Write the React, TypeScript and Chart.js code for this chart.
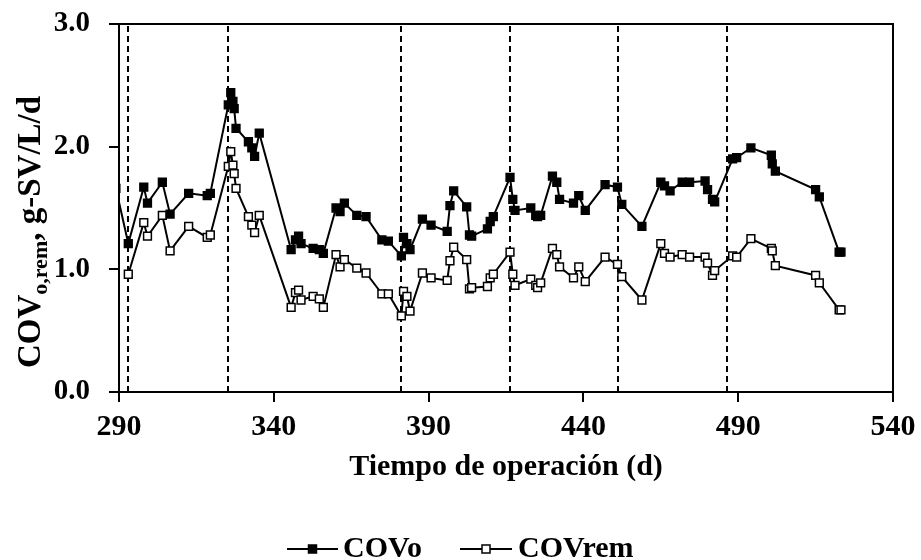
import React, { useEffect, useRef } from "react";
import { Chart, registerables } from "chart.js";

Chart.register(...registerables);

const days = [
  289, 293, 298, 299.2, 304, 306.5, 312.5, 318.5, 319.5, 325.3, 326.1, 326.8, 327.2, 327.8,
  331.8, 332.9, 333.8, 335.3, 345.6, 347.0, 348.0, 348.8, 352.7, 354.7, 356.0, 360.1, 361.4,
  362.8, 366.8, 369.8, 374.9, 377.0, 381.2, 381.9, 383.0, 384.0, 388.0, 390.8, 396.0, 396.9,
  398.1, 402.3, 403.2, 403.9, 409.0, 409.9, 410.9, 416.3, 417.2, 417.9, 423.0, 424.6, 425.2,
  426.2, 430.0, 431.4, 432.3, 436.8, 438.5, 440.6, 447.0, 451.0, 452.4, 458.9, 465.0, 466.2,
  468.0, 471.9, 474.3, 479.3, 480.1, 481.7, 482.4, 488.2, 489.5, 494.1, 500.7, 501.0, 502.0,
  515.0, 516.2, 522.6, 523.2,
];

const covo = [
  1.66, 1.21, 1.67, 1.54, 1.71, 1.45, 1.62, 1.6, 1.62, 2.34, 2.44, 2.37, 2.31, 2.15,
  2.04, 1.99, 1.92, 2.11, 1.16, 1.24, 1.27, 1.21, 1.17, 1.16, 1.13, 1.5, 1.47,
  1.54, 1.44, 1.43, 1.24, 1.23, 1.11, 1.26, 1.21, 1.16, 1.41, 1.36, 1.31, 1.52,
  1.64, 1.51, 1.28, 1.27, 1.33, 1.39, 1.43, 1.75, 1.57, 1.48, 1.5, 1.44, 1.43,
  1.44, 1.76, 1.71, 1.57, 1.54, 1.6, 1.48, 1.69, 1.67, 1.53, 1.35, 1.71, 1.68,
  1.64, 1.71, 1.71, 1.72, 1.65, 1.57, 1.55, 1.9, 1.91, 1.99, 1.93, 1.86, 1.8,
  1.65, 1.59, 1.14, 1.14,
];

const covrem = [
  null, 0.96, 1.38, 1.27, 1.44, 1.15, 1.35, 1.26, 1.28, 1.84, 1.96, 1.85, 1.78, 1.66,
  1.43, 1.36, 1.3, 1.44, 0.69, 0.81, 0.83, 0.75, 0.78, 0.76, 0.69, 1.12, 1.02,
  1.08, 1.01, 0.97, 0.8, 0.8, 0.62, 0.82, 0.78, 0.66, 0.97, 0.93, 0.91, 1.07,
  1.18, 1.08, 0.84, 0.85, 0.86, 0.93, 0.96, 1.14, 0.96, 0.87, 0.92, 0.87, 0.85,
  0.89, 1.17, 1.12, 1.02, 0.93, 1.02, 0.9, 1.1, 1.04, 0.94, 0.75, 1.21, 1.13,
  1.1, 1.12, 1.1, 1.1, 1.05, 0.95, 0.99, 1.11, 1.1, 1.25, 1.17, 1.15, 1.03,
  0.95, 0.89, 0.67, 0.67,
];

const phaseLines = [292.8, 325.1, 381.1, 416.3, 451.1, 486.3];

const seriesNames = ["COVo", "COVrem"];
const xTitle = "Tiempo de operación (d)";
const yTitleMain = "COV";
const yTitleSub = "o,rem";
const yTitleRest = ", g-SV/L/d";

const FONT = "'Liberation Serif', 'Times New Roman', serif";
const FS = 30;

const decorPlugin = {
  id: "decor",
  beforeDatasetsDraw(chart: any) {
    const { ctx, chartArea, scales } = chart;
    ctx.save();
    ctx.strokeStyle = "#000";
    ctx.lineWidth = 2;
    ctx.setLineDash([6, 4]);
    phaseLines.forEach((d) => {
      const x = Math.round(scales.x.getPixelForValue(d));
      ctx.beginPath();
      ctx.moveTo(x, chartArea.top + 2);
      ctx.lineTo(x, chartArea.bottom);
      ctx.stroke();
    });
    ctx.restore();
  },
  afterDraw(chart: any) {
    const { ctx, chartArea } = chart;
    ctx.save();
    // top and right frame
    ctx.strokeStyle = "#000";
    ctx.lineWidth = 2;
    ctx.setLineDash([]);
    ctx.beginPath();
    ctx.moveTo(chartArea.left - 10, chartArea.top);
    ctx.lineTo(chartArea.right, chartArea.top);
    ctx.lineTo(chartArea.right, chartArea.bottom + 10);
    ctx.stroke();

    ctx.fillStyle = "#000";
    // x title
    ctx.font = `bold ${FS}px ${FONT}`;
    ctx.textAlign = "center";
    ctx.textBaseline = "middle";
    ctx.fillText(xTitle, (chartArea.left + chartArea.right) / 2, 467);

    // y title (rotated, with subscript)
    const mainFS = 33;
    const subFS = 22;
    ctx.font = `bold ${mainFS}px ${FONT}`;
    const w1 = ctx.measureText(yTitleMain).width;
    const w3 = ctx.measureText(yTitleRest).width;
    ctx.font = `bold ${subFS}px ${FONT}`;
    const w2 = ctx.measureText(yTitleSub).width;
    const total = w1 + w2 + w3;
    ctx.translate(40, 232);
    ctx.rotate(-Math.PI / 2);
    ctx.textAlign = "left";
    ctx.textBaseline = "alphabetic";
    let xx = -total / 2;
    ctx.font = `bold ${mainFS}px ${FONT}`;
    ctx.fillText(yTitleMain, xx, 0);
    xx += w1;
    ctx.font = `bold ${subFS}px ${FONT}`;
    ctx.fillText(yTitleSub, xx, 7);
    xx += w2;
    ctx.font = `bold ${mainFS}px ${FONT}`;
    ctx.fillText(yTitleRest, xx, 0);
    ctx.restore();

    // legend
    ctx.save();
    const ly = 549;
    const items = [
      { x0: 287, x1: 338, tx: 343, fill: "#000" },
      { x0: 460, x1: 512, tx: 518, fill: "#fff" },
    ];
    items.forEach((it, i) => {
      ctx.strokeStyle = "#000";
      ctx.lineWidth = 2;
      ctx.beginPath();
      ctx.moveTo(it.x0, ly);
      ctx.lineTo(it.x1, ly);
      ctx.stroke();
      const cx = (it.x0 + it.x1) / 2;
      ctx.fillStyle = it.fill;
      ctx.fillRect(cx - 4, ly - 4, 8, 8);
      ctx.lineWidth = 1.5;
      ctx.strokeRect(cx - 4, ly - 4, 8, 8);
      ctx.fillStyle = "#000";
      ctx.font = `bold ${FS}px ${FONT}`;
      ctx.textAlign = "left";
      ctx.textBaseline = "middle";
      ctx.fillText(seriesNames[i], it.tx, ly);
    });
    ctx.restore();
  },
};

const zeroPad = (s: any) => {
  s.paddingTop = 0;
  s.paddingBottom = 0;
  s.paddingLeft = 0;
  s.paddingRight = 0;
};

export default function App() {
  const ref = useRef<HTMLCanvasElement | null>(null);

  useEffect(() => {
    if (!ref.current) return;
    const toPts = (vals: (number | null)[]) =>
      days.map((d, i) => ({ x: d, y: vals[i] }));
    const chart = new Chart(ref.current, {
      type: "line",
      data: {
        datasets: [
          {
            label: seriesNames[0],
            data: toPts(covo) as any,
            borderColor: "#000",
            backgroundColor: "#000",
            borderWidth: 2,
            pointStyle: "rect",
            pointRadius: 5.5,
            pointBorderWidth: 1.5,
            pointBackgroundColor: "#000",
            pointBorderColor: "#000",
            tension: 0,
          },
          {
            label: seriesNames[1],
            data: toPts(covrem) as any,
            borderColor: "#000",
            backgroundColor: "#fff",
            borderWidth: 2,
            pointStyle: "rect",
            pointRadius: 5.5,
            pointBorderWidth: 1.5,
            pointBackgroundColor: "#fff",
            pointBorderColor: "#000",
            tension: 0,
          },
        ],
      },
      options: {
        animation: false,
        responsive: false,
        devicePixelRatio: 1,
        layout: { padding: { left: 0, right: 28, top: 24, bottom: 108 } },
        plugins: {
          legend: { display: false },
          tooltip: { enabled: false },
        },
        scales: {
          x: {
            type: "linear",
            min: 290,
            max: 540,
            afterFit: (s: any) => {
              s.height = 60;
              zeroPad(s);
            },
            ticks: {
              stepSize: 50,
              color: "#000",
              padding: 7,
              maxRotation: 0,
              font: { family: FONT, size: FS, weight: "bold" },
            },
            grid: {
              drawOnChartArea: false,
              drawTicks: true,
              tickLength: 10,
              color: "#000",
              lineWidth: 2,
            },
            border: { display: true, color: "#000", width: 2 },
          },
          y: {
            min: 0,
            max: 3,
            afterFit: (s: any) => {
              s.width = 119;
              zeroPad(s);
            },
            ticks: {
              stepSize: 1,
              color: "#000",
              padding: 19,
              callback: (v: any) => Number(v).toFixed(1),
              font: { family: FONT, size: 29, weight: "bold" },
            },
            grid: {
              drawOnChartArea: false,
              drawTicks: true,
              tickLength: 10,
              color: "#000",
              lineWidth: 2,
            },
            border: { display: true, color: "#000", width: 2 },
          },
        },
      },
      plugins: [decorPlugin],
    });
    return () => chart.destroy();
  }, []);

  return (
    <div style={{ position: "absolute", left: 0, top: 0, width: 921, height: 560, background: "#fff" }}>
      <canvas ref={ref} width={921} height={560} />
    </div>
  );
}
